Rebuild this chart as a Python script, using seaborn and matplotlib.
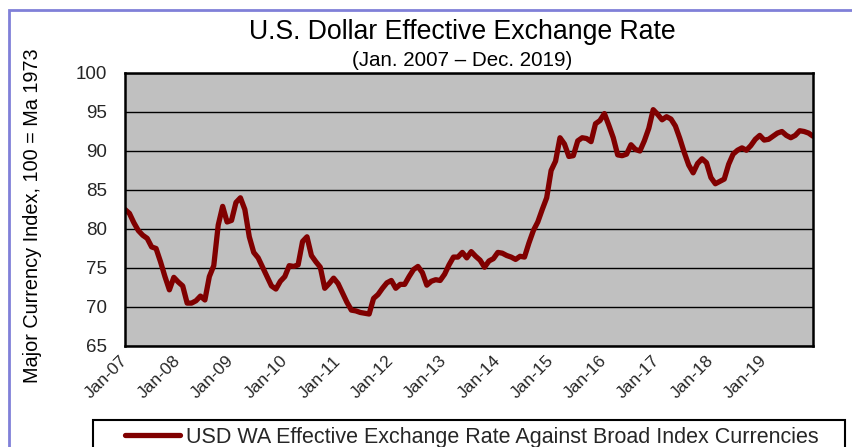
import numpy as np
import pandas as pd
import matplotlib
matplotlib.use("Agg")
import matplotlib.pyplot as plt
from matplotlib.patches import Rectangle
import seaborn as sns

# ---- data (monthly, Jan 2007 - Dec 2019) ----
index_values = [
    82.5, 82.0, 80.8, 79.8, 79.2, 78.8, 77.7, 77.5, 75.8, 73.9, 72.2, 73.8,
    73.2, 72.7, 70.5, 70.5, 70.8, 71.4, 70.9, 73.9, 75.3, 80.5, 82.9, 80.9,
    81.1, 83.4, 84.0, 82.5, 79.0, 77.0, 76.3, 75.1, 73.9, 72.7, 72.3, 73.3,
    73.9, 75.3, 75.2, 75.4, 78.4, 79.0, 76.6, 75.8, 75.1, 72.4, 73.0, 73.7,
    73.0, 71.8, 70.6, 69.6, 69.5, 69.3, 69.2, 69.1, 71.1, 71.6, 72.4, 73.1,
    73.4, 72.4, 72.9, 72.9, 73.9, 74.8, 75.2, 74.4, 72.8, 73.3, 73.5, 73.4,
    74.2, 75.4, 76.4, 76.4, 77.0, 76.3, 77.1, 76.5, 76.0, 75.1, 75.9, 76.2,
    77.0, 76.9, 76.6, 76.4, 76.1, 76.5, 76.4, 78.2, 79.8, 80.9, 82.5, 84.0,
    87.5, 88.7, 91.7, 90.9, 89.3, 89.4, 91.3, 91.7, 91.6, 91.2, 93.5, 93.9,
    94.8, 93.3, 91.7, 89.5, 89.4, 89.6, 90.8, 90.2, 90.0, 91.3, 92.9, 95.3,
    94.7, 94.0, 94.4, 94.1, 93.2, 91.6, 89.8, 88.2, 87.2, 88.4, 89.0, 88.5,
    86.6, 85.8, 86.1, 86.4, 88.3, 89.6, 90.1, 90.4, 90.1, 90.7, 91.5, 92.0,
    91.4, 91.5, 91.9, 92.3, 92.5, 92.0, 91.7, 92.0, 92.6, 92.5, 92.3, 91.9,
]
tick_labels = ["Jan-07", "Jan-08", "Jan-09", "Jan-10", "Jan-11", "Jan-12", "Jan-13",
               "Jan-14", "Jan-15", "Jan-16", "Jan-17", "Jan-18", "Jan-19"]
y_ticks = [65, 70, 75, 80, 85, 90, 95, 100]
series_name = "USD WA Effective Exchange Rate Against Broad Index Currencies"
title = "U.S. Dollar Effective Exchange Rate"
subtitle = "(Jan. 2007 \u2013 Dec. 2019)"
y_label = "Major Currency Index, 100 = Ma 1973"

df = pd.DataFrame({"month": np.arange(len(index_values)), "value": index_values,
                   "series": series_name})

sns.set_theme(style="white")
plt.rcParams["font.family"] = ["Liberation Sans", "DejaVu Sans"]

W, H = 852, 447
fig = plt.figure(figsize=(W / 100, H / 100), dpi=100)
fig.patch.set_facecolor("white")

def fx(px):
    return px / W

def fy(py):
    return 1 - py / H

ax = fig.add_axes([fx(125), fy(346), fx(813) - fx(125), fy(73) - fy(346)])
ax.set_facecolor("#C0C0C0")

sns.lineplot(data=df, x="month", y="value", hue="series", palette=["#800000"],
             linewidth=3.8, ax=ax, legend=True)

ax.set_xlim(0, len(index_values) - 1)
ax.set_ylim(65, 100)
ax.set_yticks(y_ticks)
ax.set_yticklabels([str(v) for v in y_ticks], fontsize=13.5)
ax.set_xticks(np.arange(0, len(index_values), 12))
ax.set_xticklabels(tick_labels, fontsize=12.5, rotation=45, ha="right",
                   va="center", rotation_mode="anchor")
ax.tick_params(axis="y", length=0, pad=13)
ax.tick_params(axis="x", length=0, pad=9)
ax.set_xlabel("")
ax.set_ylabel("")
ax.yaxis.grid(True, color="black", linewidth=1.0)
ax.xaxis.grid(False)
ax.set_axisbelow(True)
for s in ax.spines.values():
    s.set_visible(True)
    s.set_color("black")
    s.set_linewidth(1.8)

# titles
fig.text(fx(462), fy(32), title, fontsize=19.2, ha="center", va="center", color="black")
fig.text(fx(462), fy(60), subtitle, fontsize=14.8, ha="center", va="center", color="black")
fig.text(fx(33), fy(216), y_label, fontsize=14.3, rotation=90, ha="center",
         va="center", color="black")

# outer border (left and top visible)
fig.patches.append(Rectangle((fx(9), fy(470)), fx(900) - fx(9), fy(10) - fy(470),
                             transform=fig.transFigure, fill=False,
                             edgecolor="#8080D8", linewidth=2.0))

# legend box
fig.patches.append(Rectangle((fx(93), fy(470)), fx(845) - fx(93), fy(420) - fy(470),
                             transform=fig.transFigure, fill=False,
                             edgecolor="black", linewidth=1.5))
leg_fs = 15.5
handles, labels = ax.get_legend_handles_labels()
ax.legend(handles, labels, loc="center left", bbox_to_anchor=(fx(125), fy(437)),
          bbox_transform=fig.transFigure, frameon=False, fontsize=leg_fs,
          borderpad=0, borderaxespad=0, handlelength=55 / (leg_fs * 100 / 72),
          handletextpad=0.3)

fig.savefig("out.png", dpi=100)
